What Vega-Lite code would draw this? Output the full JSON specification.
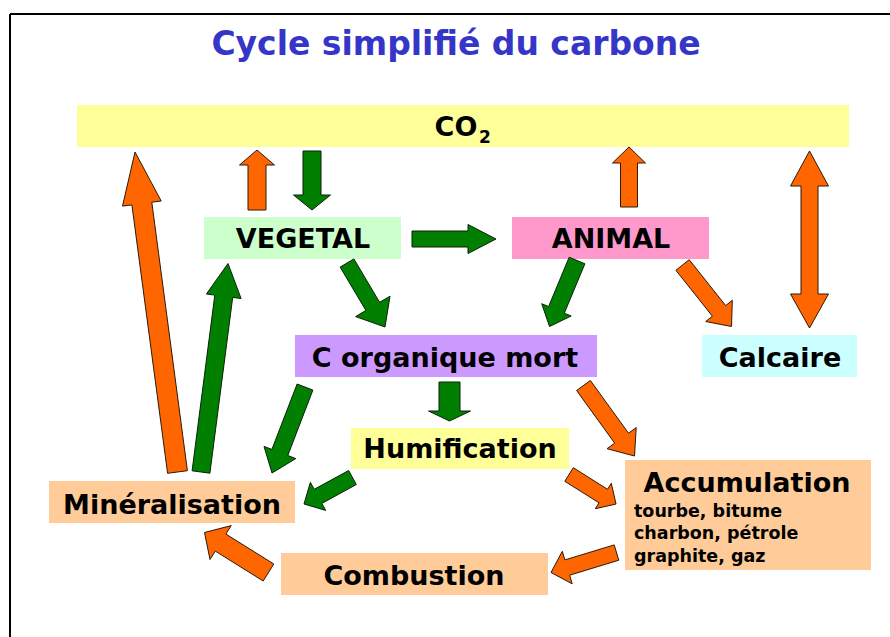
{
  "$schema": "https://vega.github.io/schema/vega-lite/v6.json",
  "width": 890,
  "height": 637,
  "autosize": {"type": "none"},
  "padding": 0,
  "background": "white",
  "config": {"view": {"stroke": null}},
  "datasets": {
    "borders": [
      {"x1": 10, "y1": 14, "x2": 890, "y2": 14},
      {"x1": 10, "y1": 14, "x2": 10, "y2": 637}
    ],
    "boxes": [
      {"name": "CO2", "label": "CO", "x1": 77, "x2": 849, "y1": 105, "y2": 147, "tx": 456, "ty": 136},
      {"name": "VEGETAL", "label": "VEGETAL", "x1": 204, "x2": 401, "y1": 217, "y2": 259, "tx": 303, "ty": 248},
      {"name": "ANIMAL", "label": "ANIMAL", "x1": 512, "x2": 709, "y1": 217, "y2": 259, "tx": 611, "ty": 248},
      {"name": "Corg", "label": "C organique mort", "x1": 295, "x2": 597, "y1": 335, "y2": 377, "tx": 445, "ty": 367},
      {"name": "Calcaire", "label": "Calcaire", "x1": 702, "x2": 857, "y1": 335, "y2": 377, "tx": 780, "ty": 367},
      {"name": "Humification", "label": "Humification", "x1": 351, "x2": 569, "y1": 428, "y2": 469, "tx": 460, "ty": 458},
      {"name": "Mineralisation", "label": "Minéralisation", "x1": 49, "x2": 295, "y1": 481, "y2": 523, "tx": 172, "ty": 514},
      {"name": "Combustion", "label": "Combustion", "x1": 281, "x2": 548, "y1": 553, "y2": 595, "tx": 414, "ty": 585},
      {"name": "Accumulation", "label": "Accumulation", "x1": 625, "x2": 871, "y1": 460, "y2": 570, "tx": 747, "ty": 492}
    ],
    "subs": [
      {"t": "2", "x": 479, "y": 143}
    ],
    "notes": [
      {"t": "tourbe, bitume", "x": 634, "y": 517},
      {"t": "charbon, pétrole", "x": 634, "y": 539},
      {"t": "graphite, gaz", "x": 634, "y": 562}
    ],
    "title": [
      {"t": "Cycle simplifié du carbone", "x": 456, "y": 55}
    ],
    "arrows": [
      {"a": "A1", "c": "o", "i": 0, "x": 266, "y": 210},
      {"a": "A1", "c": "o", "i": 1, "x": 266, "y": 165},
      {"a": "A1", "c": "o", "i": 2, "x": 274.5, "y": 165},
      {"a": "A1", "c": "o", "i": 3, "x": 257, "y": 150},
      {"a": "A1", "c": "o", "i": 4, "x": 239.5, "y": 165},
      {"a": "A1", "c": "o", "i": 5, "x": 248, "y": 165},
      {"a": "A1", "c": "o", "i": 6, "x": 248, "y": 210},
      {"a": "A1", "c": "o", "i": 7, "x": 266, "y": 210},

      {"a": "A2", "c": "g", "i": 0, "x": 303, "y": 151},
      {"a": "A2", "c": "g", "i": 1, "x": 303, "y": 195},
      {"a": "A2", "c": "g", "i": 2, "x": 293.5, "y": 195},
      {"a": "A2", "c": "g", "i": 3, "x": 312, "y": 210},
      {"a": "A2", "c": "g", "i": 4, "x": 330.5, "y": 195},
      {"a": "A2", "c": "g", "i": 5, "x": 321, "y": 195},
      {"a": "A2", "c": "g", "i": 6, "x": 321, "y": 151},
      {"a": "A2", "c": "g", "i": 7, "x": 303, "y": 151},

      {"a": "A3", "c": "g", "i": 0, "x": 412, "y": 231},
      {"a": "A3", "c": "g", "i": 1, "x": 468, "y": 231},
      {"a": "A3", "c": "g", "i": 2, "x": 468, "y": 224.5},
      {"a": "A3", "c": "g", "i": 3, "x": 496, "y": 239},
      {"a": "A3", "c": "g", "i": 4, "x": 468, "y": 253.5},
      {"a": "A3", "c": "g", "i": 5, "x": 468, "y": 247},
      {"a": "A3", "c": "g", "i": 6, "x": 412, "y": 247},
      {"a": "A3", "c": "g", "i": 7, "x": 412, "y": 231},

      {"a": "A4", "c": "g", "i": 0, "x": 340.1, "y": 267.1},
      {"a": "A4", "c": "g", "i": 1, "x": 365.9, "y": 310.4},
      {"a": "A4", "c": "g", "i": 2, "x": 355.6, "y": 316.6},
      {"a": "A4", "c": "g", "i": 3, "x": 385, "y": 327},
      {"a": "A4", "c": "g", "i": 4, "x": 390, "y": 296.2},
      {"a": "A4", "c": "g", "i": 5, "x": 379.6, "y": 302.3},
      {"a": "A4", "c": "g", "i": 6, "x": 353.9, "y": 258.9},
      {"a": "A4", "c": "g", "i": 7, "x": 340.1, "y": 267.1},

      {"a": "A5", "c": "o", "i": 0, "x": 637.5, "y": 207},
      {"a": "A5", "c": "o", "i": 1, "x": 637.5, "y": 163},
      {"a": "A5", "c": "o", "i": 2, "x": 645.5, "y": 163},
      {"a": "A5", "c": "o", "i": 3, "x": 629, "y": 147},
      {"a": "A5", "c": "o", "i": 4, "x": 612.5, "y": 163},
      {"a": "A5", "c": "o", "i": 5, "x": 620.5, "y": 163},
      {"a": "A5", "c": "o", "i": 6, "x": 620.5, "y": 207},
      {"a": "A5", "c": "o", "i": 7, "x": 637.5, "y": 207},

      {"a": "A6", "c": "g", "i": 0, "x": 569.2, "y": 257.2},
      {"a": "A6", "c": "g", "i": 1, "x": 548.6, "y": 306.6},
      {"a": "A6", "c": "g", "i": 2, "x": 541.7, "y": 303.7},
      {"a": "A6", "c": "g", "i": 3, "x": 549.5, "y": 326.5},
      {"a": "A6", "c": "g", "i": 4, "x": 571.2, "y": 316},
      {"a": "A6", "c": "g", "i": 5, "x": 564.3, "y": 313.2},
      {"a": "A6", "c": "g", "i": 6, "x": 584.9, "y": 263.8},
      {"a": "A6", "c": "g", "i": 7, "x": 569.2, "y": 257.2},

      {"a": "A7", "c": "o", "i": 0, "x": 675.9, "y": 270.3},
      {"a": "A7", "c": "o", "i": 1, "x": 712.4, "y": 316.2},
      {"a": "A7", "c": "o", "i": 2, "x": 705.7, "y": 321.5},
      {"a": "A7", "c": "o", "i": 3, "x": 731.5, "y": 326.5},
      {"a": "A7", "c": "o", "i": 4, "x": 732.3, "y": 300.3},
      {"a": "A7", "c": "o", "i": 5, "x": 725.7, "y": 305.6},
      {"a": "A7", "c": "o", "i": 6, "x": 689.2, "y": 259.7},
      {"a": "A7", "c": "o", "i": 7, "x": 675.9, "y": 270.3},

      {"a": "A8", "c": "o", "i": 0, "x": 818, "y": 186},
      {"a": "A8", "c": "o", "i": 1, "x": 828.5, "y": 186},
      {"a": "A8", "c": "o", "i": 2, "x": 809.5, "y": 151},
      {"a": "A8", "c": "o", "i": 3, "x": 790.5, "y": 186},
      {"a": "A8", "c": "o", "i": 4, "x": 801, "y": 186},
      {"a": "A8", "c": "o", "i": 5, "x": 801, "y": 294},
      {"a": "A8", "c": "o", "i": 6, "x": 790.5, "y": 294},
      {"a": "A8", "c": "o", "i": 7, "x": 809.5, "y": 328},
      {"a": "A8", "c": "o", "i": 8, "x": 828.5, "y": 294},
      {"a": "A8", "c": "o", "i": 9, "x": 818, "y": 294},
      {"a": "A8", "c": "o", "i": 10, "x": 818, "y": 186},

      {"a": "A9", "c": "g", "i": 0, "x": 439, "y": 382},
      {"a": "A9", "c": "g", "i": 1, "x": 439, "y": 411},
      {"a": "A9", "c": "g", "i": 2, "x": 428.5, "y": 411},
      {"a": "A9", "c": "g", "i": 3, "x": 449.5, "y": 421},
      {"a": "A9", "c": "g", "i": 4, "x": 470.5, "y": 411},
      {"a": "A9", "c": "g", "i": 5, "x": 460, "y": 411},
      {"a": "A9", "c": "g", "i": 6, "x": 460, "y": 382},
      {"a": "A9", "c": "g", "i": 7, "x": 439, "y": 382},

      {"a": "A10", "c": "g", "i": 0, "x": 297.1, "y": 384},
      {"a": "A10", "c": "g", "i": 1, "x": 271.9, "y": 449.4},
      {"a": "A10", "c": "g", "i": 2, "x": 264, "y": 446.4},
      {"a": "A10", "c": "g", "i": 3, "x": 272, "y": 473},
      {"a": "A10", "c": "g", "i": 4, "x": 295.8, "y": 458.6},
      {"a": "A10", "c": "g", "i": 5, "x": 287.8, "y": 455.5},
      {"a": "A10", "c": "g", "i": 6, "x": 312.9, "y": 390.1},
      {"a": "A10", "c": "g", "i": 7, "x": 297.1, "y": 384},

      {"a": "A11", "c": "o", "i": 0, "x": 576.6, "y": 390.5},
      {"a": "A11", "c": "o", "i": 1, "x": 614.7, "y": 443.2},
      {"a": "A11", "c": "o", "i": 2, "x": 607, "y": 448.7},
      {"a": "A11", "c": "o", "i": 3, "x": 634.5, "y": 456},
      {"a": "A11", "c": "o", "i": 4, "x": 636.2, "y": 427.6},
      {"a": "A11", "c": "o", "i": 5, "x": 628.5, "y": 433.2},
      {"a": "A11", "c": "o", "i": 6, "x": 590.4, "y": 380.5},
      {"a": "A11", "c": "o", "i": 7, "x": 576.6, "y": 390.5},

      {"a": "A12", "c": "g", "i": 0, "x": 348.7, "y": 470.5},
      {"a": "A12", "c": "g", "i": 1, "x": 314.2, "y": 489.3},
      {"a": "A12", "c": "g", "i": 2, "x": 310.4, "y": 482.3},
      {"a": "A12", "c": "g", "i": 3, "x": 304, "y": 504},
      {"a": "A12", "c": "g", "i": 4, "x": 325.7, "y": 510.4},
      {"a": "A12", "c": "g", "i": 5, "x": 321.9, "y": 503.4},
      {"a": "A12", "c": "g", "i": 6, "x": 356.3, "y": 484.5},
      {"a": "A12", "c": "g", "i": 7, "x": 348.7, "y": 470.5},

      {"a": "A13", "c": "o", "i": 0, "x": 564.8, "y": 481.3},
      {"a": "A13", "c": "o", "i": 1, "x": 599, "y": 502.8},
      {"a": "A13", "c": "o", "i": 2, "x": 595.3, "y": 508.7},
      {"a": "A13", "c": "o", "i": 3, "x": 616, "y": 504},
      {"a": "A13", "c": "o", "i": 4, "x": 611.3, "y": 483.3},
      {"a": "A13", "c": "o", "i": 5, "x": 607.5, "y": 489.3},
      {"a": "A13", "c": "o", "i": 6, "x": 573.3, "y": 467.7},
      {"a": "A13", "c": "o", "i": 7, "x": 564.8, "y": 481.3},

      {"a": "A14", "c": "o", "i": 0, "x": 614.2, "y": 544.9},
      {"a": "A14", "c": "o", "i": 1, "x": 564.9, "y": 559.9},
      {"a": "A14", "c": "o", "i": 2, "x": 562.3, "y": 551.3},
      {"a": "A14", "c": "o", "i": 3, "x": 551, "y": 572.5},
      {"a": "A14", "c": "o", "i": 4, "x": 572.2, "y": 583.8},
      {"a": "A14", "c": "o", "i": 5, "x": 569.6, "y": 575.2},
      {"a": "A14", "c": "o", "i": 6, "x": 618.8, "y": 560.2},
      {"a": "A14", "c": "o", "i": 7, "x": 614.2, "y": 544.9},

      {"a": "A15", "c": "o", "i": 0, "x": 273.8, "y": 564},
      {"a": "A15", "c": "o", "i": 1, "x": 225.9, "y": 534.1},
      {"a": "A15", "c": "o", "i": 2, "x": 231.2, "y": 525.6},
      {"a": "A15", "c": "o", "i": 3, "x": 204.5, "y": 532.5},
      {"a": "A15", "c": "o", "i": 4, "x": 210, "y": 559.5},
      {"a": "A15", "c": "o", "i": 5, "x": 215.3, "y": 551.1},
      {"a": "A15", "c": "o", "i": 6, "x": 263.2, "y": 581},
      {"a": "A15", "c": "o", "i": 7, "x": 273.8, "y": 564},

      {"a": "A16", "c": "o", "i": 0, "x": 187.4, "y": 470.7},
      {"a": "A16", "c": "o", "i": 1, "x": 151.8, "y": 202.2},
      {"a": "A16", "c": "o", "i": 2, "x": 161.2, "y": 201},
      {"a": "A16", "c": "o", "i": 3, "x": 135, "y": 152},
      {"a": "A16", "c": "o", "i": 4, "x": 122.5, "y": 206.1},
      {"a": "A16", "c": "o", "i": 5, "x": 131.9, "y": 204.9},
      {"a": "A16", "c": "o", "i": 6, "x": 167.6, "y": 473.3},
      {"a": "A16", "c": "o", "i": 7, "x": 187.4, "y": 470.7},

      {"a": "A17", "c": "g", "i": 0, "x": 209.9, "y": 473.2},
      {"a": "A17", "c": "g", "i": 1, "x": 232.7, "y": 297.4},
      {"a": "A17", "c": "g", "i": 2, "x": 241.1, "y": 298.5},
      {"a": "A17", "c": "g", "i": 3, "x": 228, "y": 263.5},
      {"a": "A17", "c": "g", "i": 4, "x": 206.4, "y": 294},
      {"a": "A17", "c": "g", "i": 5, "x": 214.8, "y": 295.1},
      {"a": "A17", "c": "g", "i": 6, "x": 192.1, "y": 470.8},
      {"a": "A17", "c": "g", "i": 7, "x": 209.9, "y": 473.2}
    ]
  },
  "layer": [
    {
      "data": {"name": "borders"},
      "mark": {"type": "rule", "color": "black", "strokeWidth": 2},
      "encoding": {
        "x": {"field": "x1", "type": "quantitative", "scale": {"domain": [0, 890], "nice": false, "zero": false}, "axis": null},
        "y": {"field": "y1", "type": "quantitative", "scale": {"domain": [0, 637], "reverse": true, "nice": false, "zero": false}, "axis": null},
        "x2": {"field": "x2"},
        "y2": {"field": "y2"}
      }
    },
    {
      "data": {"name": "boxes"},
      "mark": {"type": "rect"},
      "encoding": {
        "x": {"field": "x1", "type": "quantitative", "axis": null},
        "x2": {"field": "x2"},
        "y": {"field": "y1", "type": "quantitative", "axis": null},
        "y2": {"field": "y2"},
        "fill": {
          "field": "name", "type": "nominal", "legend": null,
          "scale": {
            "domain": ["CO2", "VEGETAL", "ANIMAL", "Corg", "Calcaire", "Humification", "Mineralisation", "Combustion", "Accumulation"],
            "range": ["#ffff99", "#ccffcc", "#ff99cc", "#cc99ff", "#ccffff", "#ffff99", "#ffcc99", "#ffcc99", "#ffcc99"]
          }
        }
      }
    },
    {
      "data": {"name": "arrows"},
      "transform": [{"filter": "datum.c === 'o'"}],
      "mark": {"type": "line", "fill": "#ff6600", "stroke": "#2a1a0a", "strokeWidth": 1, "strokeJoin": "miter"},
      "encoding": {
        "x": {"field": "x", "type": "quantitative", "axis": null},
        "y": {"field": "y", "type": "quantitative", "axis": null},
        "detail": {"field": "a"},
        "order": {"field": "i", "type": "quantitative"}
      }
    },
    {
      "data": {"name": "arrows"},
      "transform": [{"filter": "datum.c === 'g'"}],
      "mark": {"type": "line", "fill": "#007f00", "stroke": "#0a200a", "strokeWidth": 1, "strokeJoin": "miter"},
      "encoding": {
        "x": {"field": "x", "type": "quantitative", "axis": null},
        "y": {"field": "y", "type": "quantitative", "axis": null},
        "detail": {"field": "a"},
        "order": {"field": "i", "type": "quantitative"}
      }
    },
    {
      "data": {"name": "boxes"},
      "mark": {"type": "text", "font": "DejaVu Sans", "fontWeight": "bold", "fontSize": 27, "color": "black", "align": "center", "baseline": "alphabetic"},
      "encoding": {
        "x": {"field": "tx", "type": "quantitative", "axis": null},
        "y": {"field": "ty", "type": "quantitative", "axis": null},
        "text": {"field": "label"}
      }
    },
    {
      "data": {"name": "subs"},
      "mark": {"type": "text", "font": "DejaVu Sans", "fontWeight": "bold", "fontSize": 17, "color": "black", "align": "left", "baseline": "alphabetic"},
      "encoding": {
        "x": {"field": "x", "type": "quantitative", "axis": null},
        "y": {"field": "y", "type": "quantitative", "axis": null},
        "text": {"field": "t"}
      }
    },
    {
      "data": {"name": "notes"},
      "mark": {"type": "text", "font": "DejaVu Sans", "fontWeight": "bold", "fontSize": 17.5, "color": "black", "align": "left", "baseline": "alphabetic"},
      "encoding": {
        "x": {"field": "x", "type": "quantitative", "axis": null},
        "y": {"field": "y", "type": "quantitative", "axis": null},
        "text": {"field": "t"}
      }
    },
    {
      "data": {"name": "title"},
      "mark": {"type": "text", "font": "DejaVu Sans", "fontWeight": "bold", "fontSize": 33, "color": "#3535c8", "align": "center", "baseline": "alphabetic"},
      "encoding": {
        "x": {"field": "x", "type": "quantitative", "axis": null},
        "y": {"field": "y", "type": "quantitative", "axis": null},
        "text": {"field": "t"}
      }
    }
  ]
}
